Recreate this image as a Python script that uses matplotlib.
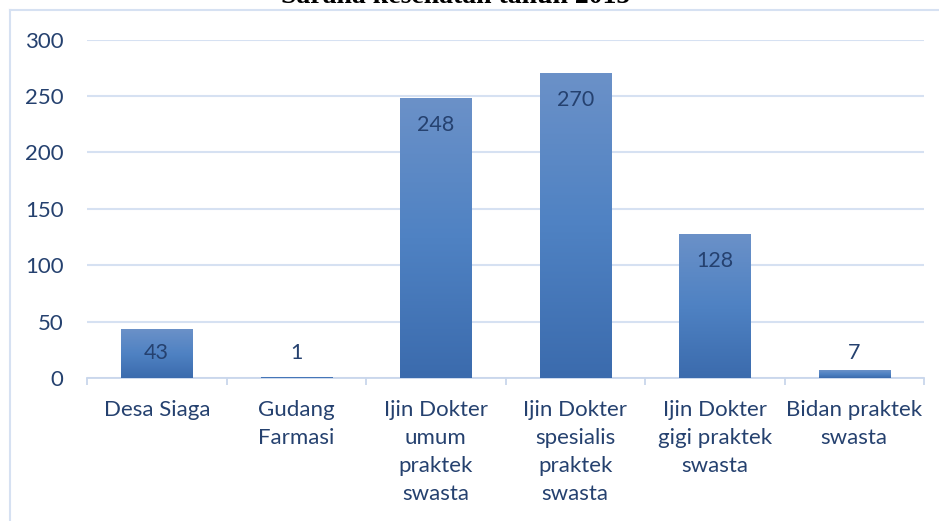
import numpy as np
import matplotlib
matplotlib.use("Agg")
import matplotlib.pyplot as plt
from matplotlib.lines import Line2D

# data
categories = ["Desa Siaga", "Gudang\nFarmasi", "Ijin Dokter\numum\npraktek\nswasta",
              "Ijin Dokter\nspesialis\npraktek\nswasta", "Ijin Dokter\ngigi praktek\nswasta",
              "Bidan praktek\nswasta"]
values = [43, 1, 248, 270, 128, 7]
y_ticks = [0, 50, 100, 150, 200, 250, 300]
title = "Sarana kesehatan tahun 2015"

text_col = "#25416f"
grid_col = "#d6e1f2"

plt.rcParams["font.family"] = ["Lato", "DejaVu Sans"]

fig = plt.figure(figsize=(9.39, 5.21), dpi=100)
ax = fig.add_axes([87 / 939, 1 - 378 / 521, 837 / 939, 338.5 / 521])

x = np.arange(len(categories))
bars = ax.bar(x, values, width=0.51, color="none", zorder=3)

# vertical gradient on each bar
grad = np.linspace(0, 1, 256).reshape(-1, 1)
cmap = matplotlib.colors.LinearSegmentedColormap.from_list("g", ["#3b6bad", "#4f82c3", "#6b91c8"])
for b in bars:
    x0, y0 = b.get_x(), b.get_y()
    w, h = b.get_width(), b.get_height()
    im = ax.imshow(grad, cmap=cmap, origin="lower", aspect="auto",
                   extent=[x0, x0 + w, y0, y0 + h], zorder=3)
    im.set_clip_path(b)

# value labels
for xi, v in zip(x, values):
    ypos = max(v - 24, 22)
    ax.text(xi, ypos, str(v), ha="center", va="center", fontsize=15.5, color=text_col, zorder=4)

ax.set_xlim(-0.5, len(categories) - 0.5)
ax.set_ylim(0, 300)
ax.set_yticks(y_ticks)
ax.set_yticklabels([str(t) for t in y_ticks], fontsize=16, color=text_col)
ax.set_xticks(x)
ax.set_xticklabels(categories, fontsize=16, color=text_col, linespacing=1.5, va="top")
ax.set_xticks(np.arange(-0.5, len(categories)), minor=True)
ax.tick_params(axis="y", length=0, pad=17)
ax.tick_params(axis="x", which="major", length=0, pad=16)
ax.tick_params(axis="x", which="minor", length=5, width=1.3, color="#c9d7ec", direction="out")

ax.yaxis.grid(True, color=grid_col, linewidth=1.5, zorder=0)
ax.set_axisbelow(True)
for s in ["top", "right", "left"]:
    ax.spines[s].set_visible(False)
ax.spines["bottom"].set_color("#c9d7ec")
ax.spines["bottom"].set_linewidth(1.3)

# chart frame (only top and left edges visible)
fig.add_artist(Line2D([10 / 939, 1], [1 - 10 / 521] * 2, transform=fig.transFigure,
                      color=grid_col, linewidth=1.5))
fig.add_artist(Line2D([10 / 939] * 2, [0, 1 - 10 / 521], transform=fig.transFigure,
                      color=grid_col, linewidth=1.5))

fig.text(456 / 939, 1 - 3 / 521, title, ha="center", va="baseline", fontsize=20,
         fontweight="bold", family="Liberation Serif", color="black")

fig.savefig("out.png", dpi=100)
